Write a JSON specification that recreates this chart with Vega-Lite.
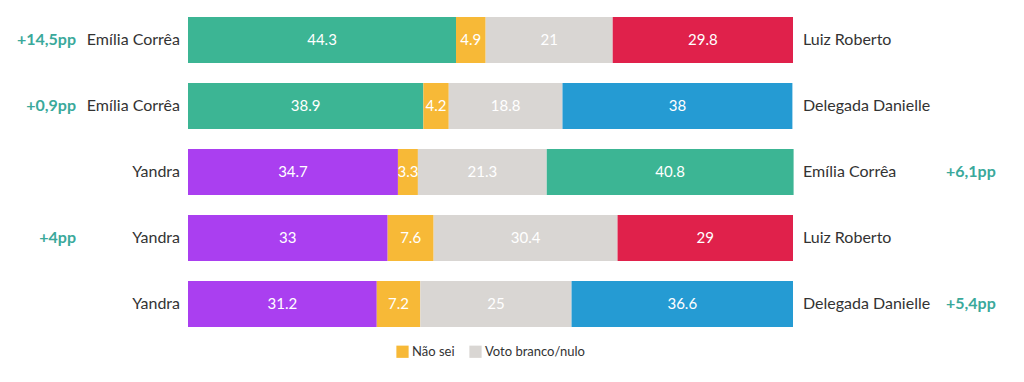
{
  "$schema": "https://vega.github.io/schema/vega-lite/v6.json",
  "autosize": "none",
  "width": 605,
  "height": 330,
  "padding": {"left": 188, "top": 7, "right": 231, "bottom": 45},
  "background": "white",
  "config": {"view": {"stroke": null}, "font": "Lato"},
  "datasets": {
    "segs": [
      {"row": 1, "ord": 1, "cat": "Emília Corrêa", "value": 44.3},
      {"row": 1, "ord": 2, "cat": "Não sei", "value": 4.9},
      {"row": 1, "ord": 3, "cat": "Voto branco/nulo", "value": 21},
      {"row": 1, "ord": 4, "cat": "Luiz Roberto", "value": 29.8},
      {"row": 2, "ord": 1, "cat": "Emília Corrêa", "value": 38.9},
      {"row": 2, "ord": 2, "cat": "Não sei", "value": 4.2},
      {"row": 2, "ord": 3, "cat": "Voto branco/nulo", "value": 18.8},
      {"row": 2, "ord": 4, "cat": "Delegada Danielle", "value": 38},
      {"row": 3, "ord": 1, "cat": "Yandra", "value": 34.7},
      {"row": 3, "ord": 2, "cat": "Não sei", "value": 3.3},
      {"row": 3, "ord": 3, "cat": "Voto branco/nulo", "value": 21.3},
      {"row": 3, "ord": 4, "cat": "Emília Corrêa", "value": 40.8},
      {"row": 4, "ord": 1, "cat": "Yandra", "value": 33},
      {"row": 4, "ord": 2, "cat": "Não sei", "value": 7.6},
      {"row": 4, "ord": 3, "cat": "Voto branco/nulo", "value": 30.4},
      {"row": 4, "ord": 4, "cat": "Luiz Roberto", "value": 29},
      {"row": 5, "ord": 1, "cat": "Yandra", "value": 31.2},
      {"row": 5, "ord": 2, "cat": "Não sei", "value": 7.2},
      {"row": 5, "ord": 3, "cat": "Voto branco/nulo", "value": 25},
      {"row": 5, "ord": 4, "cat": "Delegada Danielle", "value": 36.6}
    ],
    "rows": [
      {"row": 1, "left": "Emília Corrêa", "right": "Luiz Roberto", "margin": "+14,5pp", "side": "L"},
      {"row": 2, "left": "Emília Corrêa", "right": "Delegada Danielle", "margin": "+0,9pp", "side": "L"},
      {"row": 3, "left": "Yandra", "right": "Emília Corrêa", "margin": "+6,1pp", "side": "R"},
      {"row": 4, "left": "Yandra", "right": "Luiz Roberto", "margin": "+4pp", "side": "L"},
      {"row": 5, "left": "Yandra", "right": "Delegada Danielle", "margin": "+5,4pp", "side": "R"}
    ]
  },
  "encoding": {
    "y": {"field": "row", "type": "ordinal", "axis": null,
          "scale": {"paddingInner": 0.3, "paddingOuter": 0.15}}
  },
  "layer": [
    {
      "data": {"name": "segs"},
      "mark": {"type": "bar"},
      "encoding": {
        "x": {"field": "value", "type": "quantitative", "stack": "zero", "axis": null,
              "scale": {"domain": [0, 100], "nice": false, "zero": true}},
        "order": {"field": "ord", "type": "quantitative"},
        "color": {
          "field": "cat", "type": "nominal",
          "scale": {
            "domain": ["Emília Corrêa", "Yandra", "Não sei", "Voto branco/nulo", "Luiz Roberto", "Delegada Danielle"],
            "range": ["#3cb594", "#aa3ff0", "#f7b937", "#d9d6d3", "#e0214b", "#259bd3"]
          },
          "legend": {
            "values": ["Não sei", "Voto branco/nulo"],
            "title": null,
            "orient": "none",
            "direction": "horizontal",
            "legendX": 208,
            "legendY": 338,
            "symbolType": "square",
            "symbolSize": 150,
            "symbolStrokeWidth": 0,
            "symbolOpacity": 1,
            "labelFont": "Lato",
            "labelFontSize": 13,
            "labelColor": "#333333",
            "labelOffset": 3,
            "columnPadding": 14
          }
        }
      }
    },
    {
      "data": {"name": "segs"},
      "transform": [
        {"stack": "value", "groupby": ["row"], "sort": [{"field": "ord"}], "as": ["x0", "x1"]},
        {"calculate": "(datum.x0 + datum.x1) / 2", "as": "mid"}
      ],
      "mark": {"type": "text", "color": "white", "fontSize": 15, "font": "Lato", "align": "center", "baseline": "middle"},
      "encoding": {
        "x": {"field": "mid", "type": "quantitative"},
        "text": {"field": "value", "type": "quantitative"}
      }
    },
    {
      "data": {"name": "rows"},
      "mark": {"type": "text", "align": "right", "baseline": "middle", "dx": -8, "fontSize": 16, "font": "Lato", "color": "#333333"},
      "encoding": {
        "x": {"datum": 0, "type": "quantitative"},
        "text": {"field": "left"}
      }
    },
    {
      "data": {"name": "rows"},
      "mark": {"type": "text", "align": "left", "baseline": "middle", "dx": 10, "fontSize": 16, "font": "Lato", "color": "#333333"},
      "encoding": {
        "x": {"datum": 100, "type": "quantitative"},
        "text": {"field": "right"}
      }
    },
    {
      "data": {"name": "rows"},
      "transform": [{"filter": "datum.side == 'L'"}],
      "mark": {"type": "text", "align": "right", "baseline": "middle", "dx": -112, "fontSize": 16, "fontWeight": "bold", "font": "Lato", "color": "#3aa99b"},
      "encoding": {
        "x": {"datum": 0, "type": "quantitative"},
        "text": {"field": "margin"}
      }
    },
    {
      "data": {"name": "rows"},
      "transform": [{"filter": "datum.side == 'R'"}],
      "mark": {"type": "text", "align": "left", "baseline": "middle", "dx": 153, "fontSize": 16, "fontWeight": "bold", "font": "Lato", "color": "#3aa99b"},
      "encoding": {
        "x": {"datum": 100, "type": "quantitative"},
        "text": {"field": "margin"}
      }
    }
  ]
}
